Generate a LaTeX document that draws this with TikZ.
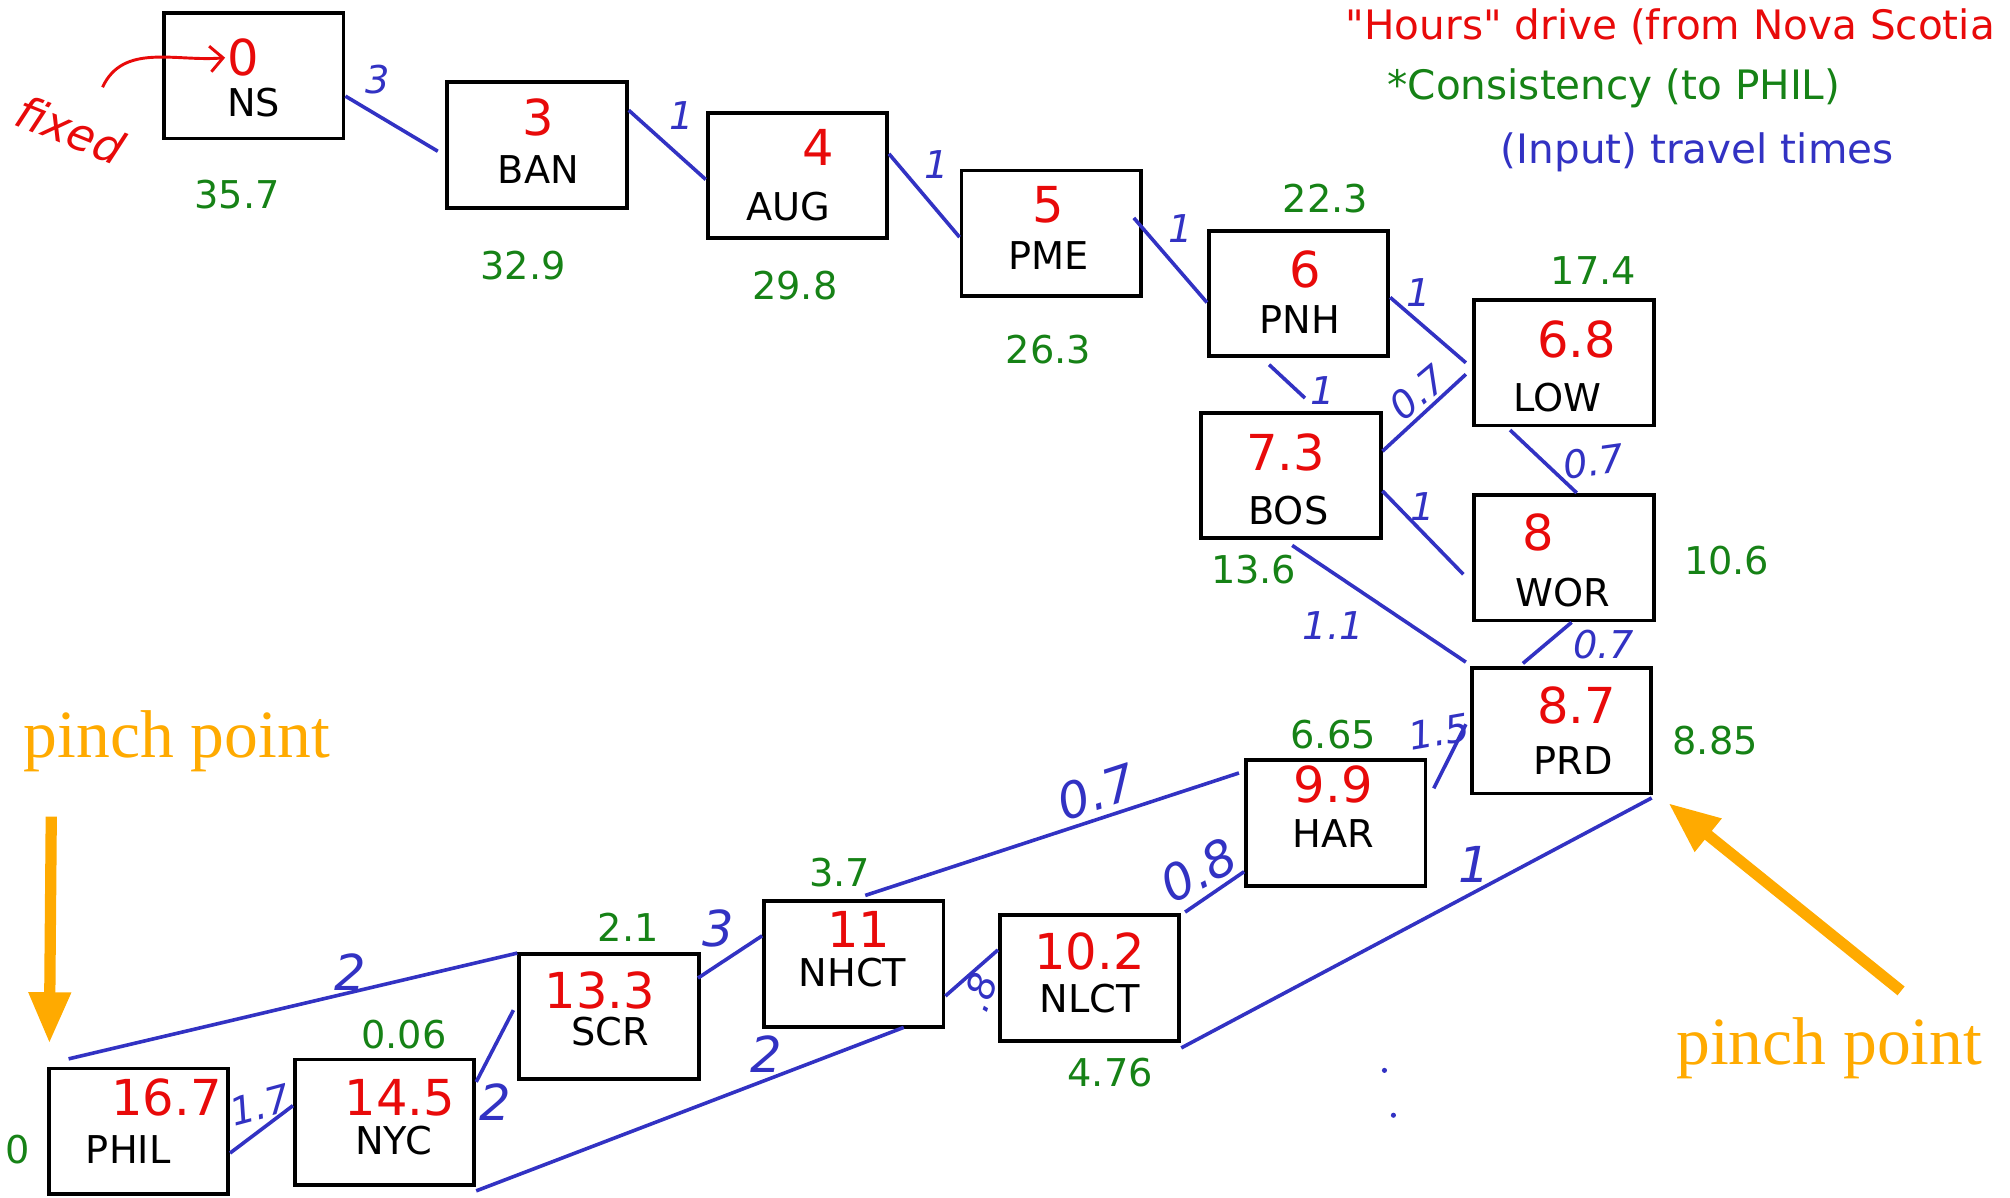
\documentclass[tikz,border=0pt]{standalone}
\usepackage{fontspec}
\setmainfont{DejaVu Sans}
\newfontfamily\pinchfont{Liberation Serif}
\usetikzlibrary{arrows.meta}

\definecolor{hrsred}{RGB}{232,10,10}
\definecolor{consgreen}{RGB}{22,130,22}
\definecolor{ttblue}{RGB}{50,50,195}
\definecolor{pinchorange}{RGB}{255,170,0}

% straight double quote, kept out of the TeX quote mapping
\newcommand\sdq{\XeTeXglyph\the\XeTeXcharglyph"22\relax}

\begin{document}
\begin{tikzpicture}[x=.02cm,y=.02cm,
    city/.style={draw,line width=1.7pt,minimum width=2.8cm,minimum height=1.96cm,inner sep=0pt},
    lbl/.style={inner sep=1pt,font=\fontsize{17}{17}\selectfont},
    hrs/.style={inner sep=1pt,text=hrsred,font=\fontsize{22}{22}\selectfont},
    cons/.style={inner sep=1pt,text=consgreen,font=\fontsize{17}{17}\selectfont},
    tt/.style={inner sep=1pt,text=ttblue,font=\itshape\fontsize{17}{17}\selectfont},
    ttbig/.style={tt,font=\itshape\fontsize{22}{22}\selectfont},
    key/.style={inner sep=1pt,font=\fontsize{18}{18}\selectfont},
    road/.style={ttblue,line width=1.6pt},
    pinch/.style={pinchorange,line width=5pt,-{Triangle[width=.62cm,length=.8cm]}},
    pinchlbl/.style={inner sep=1pt,text=pinchorange,font=\pinchfont\fontsize{30}{30}\selectfont}]
  \useasboundingbox (0,0) rectangle (1568,934);

  % cities: box, name, hours from NS (red), consistency to PHIL (green)
  \node[city] (ns) at (198,875) {};
  \node[lbl] (ns-l) at (198,854) {NS};
  \node[hrs] (ns-h) at (190,889) {0};
  \node[cons] (ns-c) at (185,782) {35.7};

  \node[city] (ban) at (419,821) {};
  \node[lbl] (ban-l) at (420,802) {BAN};
  \node[hrs] (ban-h) at (420,842) {3};
  \node[cons] (ban-c) at (408,727) {32.9};

  \node[city] (aug) at (622,797) {};
  \node[lbl] (aug-l) at (615,773) {AUG};
  \node[hrs] (aug-h) at (638,819) {4};
  \node[cons] (aug-c) at (620,711) {29.8};

  \node[city] (pme) at (820,752) {};
  \node[lbl] (pme-l) at (818,735) {PME};
  \node[hrs] (pme-h) at (818,774) {5};
  \node[cons] (pme-c) at (818,661) {26.3};

  \node[city] (pnh) at (1013,705) {};
  \node[lbl] (pnh-l) at (1014,685) {PNH};
  \node[hrs] (pnh-h) at (1018,724) {6};
  \node[cons] (pnh-c) at (1034,779) {22.3};

  \node[city] (low) at (1220,651) {};
  \node[lbl] (low-l) at (1215,624) {LOW};
  \node[hrs] (low-h) at (1230,669) {6.8};
  \node[cons] (low-c) at (1243,723) {17.4};

  \node[city] (bos) at (1007,563) {};
  \node[lbl] (bos-l) at (1005,536) {BOS};
  \node[hrs] (bos-h) at (1003,581) {7.3};
  \node[cons] (bos-c) at (978,490) {13.6};

  \node[city] (wor) at (1220,499) {};
  \node[lbl] (wor-l) at (1219,472) {WOR};
  \node[hrs] (wor-h) at (1200,519) {8};
  \node[cons] (wor-c) at (1347,497) {10.6};

  \node[city] (prd) at (1218,364) {};
  \node[lbl] (prd-l) at (1227,341) {PRD};
  \node[hrs] (prd-h) at (1230,384) {8.7};
  \node[cons] (prd-c) at (1338,356) {8.85};

  \node[city] (har) at (1042,292) {};
  \node[lbl] (har-l) at (1040,284) {HAR};
  \node[hrs] (har-h) at (1040,322) {9.9};
  \node[cons] (har-c) at (1040,361) {6.65};

  \node[city] (nlct) at (850,171) {};
  \node[lbl] (nlct-l) at (850,155) {NLCT};
  \node[hrs] (nlct-h) at (850,192) {10.2};
  \node[cons] (nlct-c) at (866,97) {4.76};

  \node[city] (nhct) at (666,182) {};
  \node[lbl] (nhct-l) at (665,175) {NHCT};
  \node[hrs] (nhct-h) at (670,209) {11};
  \node[cons] (nhct-c) at (655,253) {3.7};

  \node[city] (scr) at (475,141) {};
  \node[lbl] (scr-l) at (476,129) {SCR};
  \node[hrs] (scr-h) at (468,161) {13.3};
  \node[cons] (scr-c) at (490,211) {2.1};

  \node[city] (nyc) at (300,58.5) {};
  \node[lbl] (nyc-l) at (307,44) {NYC};
  \node[hrs] (nyc-h) at (312,78) {14.5};
  \node[cons] (nyc-c) at (315,127) {0.06};

  \node[city] (phil) at (108,51.5) {};
  \node[lbl] (phil-l) at (100,37) {PHIL};
  \node[hrs] (phil-h) at (130,78) {16.7};
  \node[cons] (phil-c) at (14,37) {0};

  % roads with travel times
  \draw[road] ([shift={(0,-16)}]ns.east) -- ([shift={(-6,-5)}]ban.west);
  \node[tt] (t1) at (295,872) {3};
  \draw[road] ([shift={(0,27)}]ban.east) -- ([shift={(0,-3)}]aug.west);
  \node[tt] (t2) at (532,844) {1};
  \draw[road] ([shift={(0,17)}]aug.east) -- ([shift={(0,-3)}]pme.west);
  \node[tt] (t3) at (731,806) {1};
  \draw[road] ([shift={(-7,12)}]pme.east) -- ([shift={(0,-7)}]pnh.west);
  \node[tt] (t4) at (921,756) {1};
  \draw[road] ([shift={(0,-3)}]pnh.east) -- ([shift={(-5,0)}]low.west);
  \node[tt] (t5) at (1107,706) {1};
  \draw[road] ([shift={(-23,-5)}]pnh.south) -- ([shift={(11,10)}]bos.north);
  \node[tt] (t6) at (1032,629) {1};
  \draw[road] ([shift={(0,19)}]bos.east) -- ([shift={(-5,-9)}]low.west);
  \node[tt,rotate=40] (t7) at (1106,628) {0.7};
  \draw[road] ([shift={(-42,-2)}]low.south) -- ([shift={(10,0)}]wor.north);
  \node[tt,rotate=8] (t8) at (1243,574) {0.7};
  \draw[road] ([shift={(0,-12)}]bos.east) -- ([shift={(-7,-13)}]wor.west);
  \node[tt] (t9) at (1110,539) {1};
  \draw[road] ([shift={(1,-4)}]bos.south) -- ([shift={(-3,3)}]prd.north west);
  \node[tt] (t10) at (1040,446) {1.1};
  \draw[road] ([shift={(6,0)}]wor.south) -- ([shift={(-30,2)}]prd.north);
  \node[tt] (t11) at (1251,431) {0.7};
  \draw[road] ([shift={(5,27)}]har.east) -- ([shift={(-3,5)}]prd.west);
  \node[tt,rotate=10] (t12) at (1123,363) {1.5};
  \draw[road] ([shift={(9,3)}]nhct.north) -- ([shift={(-4,39)}]har.west);
  \node[ttbig,rotate=18] (t13) at (855,316) {0.7};
  \draw[road] ([shift={(3,1)}]nlct.north east) -- ([shift={(0,-38)}]har.west);
  \node[ttbig,rotate=28] (t14) at (935,255) {0.8};
  \draw[road] ([shift={(0,-4)}]nlct.south east) -- ([shift={(-1,-2)}]prd.south east);
  \node[ttbig] (t15) at (1150,260) {1};
  \draw[road] ([shift={(0,-25)}]nhct.east) -- ([shift={(0,22)}]nlct.west);
  \node[tt,rotate=70] (t16) at (764,160) {.8};
  \draw[road] ([shift={(-2,30)}]scr.east) -- ([shift={(0,22)}]nhct.west);
  \node[ttbig] (t17) at (560,210) {3};
  \draw[road] ([shift={(17,6)}]phil.north west) -- ([shift={(0,-1)}]scr.north west);
  \node[ttbig] (t18) at (273,176) {2};
  \draw[road] ([shift={(0,-19)}]nyc.north east) -- ([shift={(-3,5)}]scr.west);
  \node[ttbig] (t19) at (386,74) {2};
  \draw[road] ([shift={(0,-3)}]nyc.south east) -- ([shift={(39,1)}]nhct.south);
  \node[ttbig] (t20) at (598,112) {2};
  \draw[road] ([shift={(0,-17)}]phil.east) -- ([shift={(0,13)}]nyc.west);
  \node[tt,rotate=15] (t21) at (203,72) {1.7};
  \fill[ttblue] (1080,99) circle (2) (1087,64) circle (2);

  % start value is fixed
  \node[hrs,font=\itshape\fontsize{20}{20}\selectfont,rotate=-22] (fixed) at (55,833) {fixed};
  \draw[hrsred,line width=1.3pt,-{Straight Barb[length=2mm]}]
    ([shift={(25,33)}]fixed.center) to[out=65,in=185] (ns-h.west);

  % key
  \node[key,text=hrsred] (key-h) at (1303,913) {\sdq Hours\sdq{} drive (from Nova Scotia};
  \node[key,text=consgreen] (key-c) at (1259,865) {*Consistency (to PHIL)};
  \node[key,text=ttblue] (key-t) at (1324,815) {(Input) travel times};

  % pinch points
  \node[pinchlbl] (pp-l) at (138,356) {pinch point};
  \coordinate (pp-l-tail) at (40,297);
  \draw[pinch] (pp-l-tail) -- ([shift={(2,18)}]phil.north west);
  \node[pinchlbl] (pp-r) at (1427,116) {pinch point};
  \coordinate (pp-r-tail) at (1483,161);
  \draw[pinch] (pp-r-tail) -- ([shift={(12,-6)}]prd.south east);
\end{tikzpicture}
\end{document}
